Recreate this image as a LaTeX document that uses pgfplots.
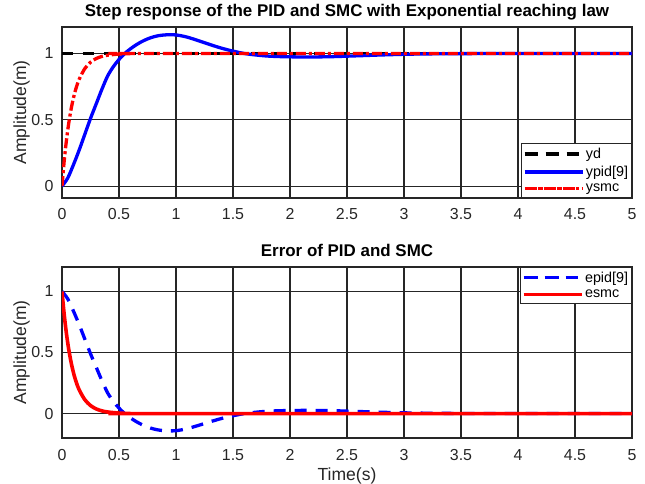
\documentclass[border=0pt]{standalone}
\usepackage{fontspec}
\setmainfont{Liberation Sans}
\usepackage{pgfplots}
\pgfplotsset{compat=1.18}

\definecolor{gridc}{RGB}{38,38,38}

\pgfplotsset{
  matstyle/.style={
    scale only axis, width=570bp, height=171bp,
    xmin=0, xmax=5, xtick={0,0.5,1,1.5,2,2.5,3,3.5,4,4.5,5}, ytick={0,0.5,1},
    grid=major, major grid style={gridc, line width=1.1bp},
    axis line style={gridc, line width=1.2bp},
    major tick length=0pt,
    tick label style={font=\fontsize{16}{16}\selectfont, text=gridc},
    xticklabel style={anchor=base, yshift=-22bp},
    yticklabel style={xshift=-5bp},
    /pgf/number format/assume math mode=true,
    title style={font=\bfseries\fontsize{17}{17}\selectfont,
      at={(axis description cs:0.5,1)}, anchor=base, yshift=5bp},
    label style={font=\fontsize{17.6}{17.6}\selectfont, text=gridc},
    ylabel style={at={(axis description cs:-0.0707,0.5)}, anchor=center},
    xlabel style={at={(axis description cs:0.5,0)}, anchor=base, yshift=-42bp},
    legend style={font=\fontsize{14.4}{14.4}\selectfont, draw=gridc, line width=0.8bp,
      inner xsep=2bp, inner ysep=1.5bp, row sep=0bp,
      nodes={inner xsep=1.5bp, inner ysep=3bp}},
    legend cell align=left,
    legend image code/.code={
      \path (-2bp,0bp) -- (56bp,0bp);
      \draw[#1] (0bp,0bp) -- (52bp,0bp);},
  },
  yd/.style={black, line width=3.3bp, dash pattern=on 11bp off 10bp},
  pid/.style={blue, line width=3.3bp},
  pidd/.style={blue, line width=3.3bp, dash pattern=on 12bp off 9bp},
  smcd/.style={red, line width=3.3bp, dash pattern=on 10bp off 3bp on 3bp off 3bp},
  smc/.style={red, line width=3.6bp},
}

\begin{document}
\begin{tikzpicture}
\useasboundingbox (-62bp,-46bp) rectangle (583bp,438bp);

% step response
\begin{axis}[matstyle, at={(0,240bp)}, anchor=south west,
  ymin=-0.09, ymax=1.2,
  title={Step response of the PID and SMC with Exponential reaching law},
  ylabel={Amplitude(m)},
  legend style={at={(1,0)}, anchor=south east}]
\addplot[yd] coordinates {(0,1) (5,1)};
\addplot[pid, smooth] coordinates {
 (0,0) (0.05,0.06) (0.1,0.16) (0.15,0.27) (0.2,0.39) (0.25,0.51) (0.3,0.62)
 (0.35,0.73) (0.4,0.83) (0.45,0.90) (0.5,0.955) (0.55,1.0) (0.6,1.035)
 (0.65,1.065) (0.7,1.09) (0.75,1.11) (0.8,1.125) (0.85,1.135) (0.9,1.14)
 (0.95,1.142) (1.0,1.14) (1.05,1.133) (1.1,1.123) (1.15,1.11) (1.2,1.096)
 (1.3,1.067) (1.4,1.04) (1.5,1.018) (1.6,1.0) (1.7,0.989) (1.8,0.981)
 (1.9,0.977) (2.0,0.975) (2.1,0.974) (2.2,0.974) (2.3,0.975) (2.4,0.977)
 (2.5,0.98) (2.6,0.983) (2.8,0.989) (3.0,0.994) (3.2,0.997) (3.5,0.999)
 (4.0,1.0) (5.0,1.0)};
\addplot[smcd, smooth] coordinates {
 (0,0) (0.02,0.195) (0.04,0.353) (0.06,0.479) (0.08,0.581) (0.1,0.663)
 (0.12,0.729) (0.15,0.804) (0.2,0.886) (0.25,0.934) (0.3,0.962) (0.35,0.978)
 (0.4,0.987) (0.5,0.996) (0.6,0.999) (0.7,1.0) (5,1.0)};
\legend{yd, ypid[9], ysmc}
\end{axis}

% error
\begin{axis}[matstyle, at={(0,0)}, anchor=south west,
  ymin=-0.2, ymax=1.2,
  title={Error of PID and SMC},
  ylabel={Amplitude(m)}, xlabel={Time(s)},
  legend style={at={(1,1)}, anchor=north east}]
\addplot[pidd, smooth] coordinates {
 (0,1) (0.05,0.94) (0.1,0.84) (0.15,0.73) (0.2,0.61) (0.25,0.49) (0.3,0.38)
 (0.35,0.27) (0.4,0.17) (0.45,0.10) (0.5,0.045) (0.55,0.0) (0.6,-0.035)
 (0.65,-0.065) (0.7,-0.09) (0.75,-0.11) (0.8,-0.125) (0.85,-0.135) (0.9,-0.14)
 (0.95,-0.142) (1.0,-0.14) (1.05,-0.133) (1.1,-0.123) (1.15,-0.11) (1.2,-0.096)
 (1.3,-0.067) (1.4,-0.04) (1.5,-0.018) (1.6,0.0) (1.7,0.011) (1.8,0.019)
 (1.9,0.023) (2.0,0.025) (2.1,0.026) (2.2,0.026) (2.3,0.025) (2.4,0.023)
 (2.5,0.02) (2.6,0.017) (2.8,0.011) (3.0,0.006) (3.2,0.003) (3.5,0.001)
 (4.0,0.0) (5.0,0.0)};
\addplot[smc, smooth] coordinates {
 (0,1) (0.02,0.805) (0.04,0.647) (0.06,0.521) (0.08,0.419) (0.1,0.337)
 (0.12,0.271) (0.15,0.196) (0.2,0.114) (0.25,0.066) (0.3,0.038) (0.35,0.022)
 (0.4,0.013) (0.5,0.004) (0.6,0.001) (0.7,0.0) (5,0.0)};
\legend{epid[9], esmc}
\end{axis}
\end{tikzpicture}
\end{document}
